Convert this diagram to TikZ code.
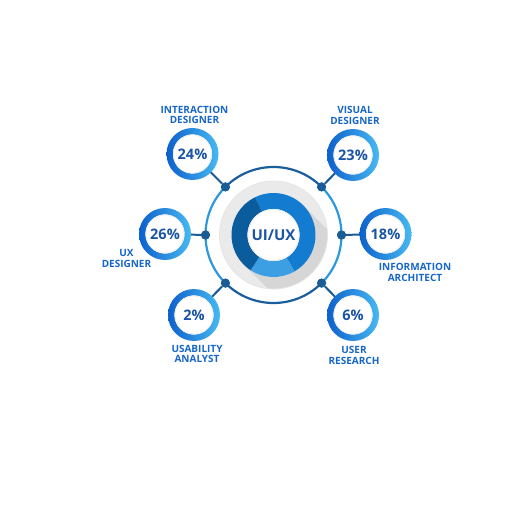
\documentclass[tikz,border=0pt]{standalone}
\usepackage{fontspec}
\setmainfont{Open Sans}
\usetikzlibrary{calc}
\definecolor{ringdark}{HTML}{1B5E9E}
\definecolor{ringlight}{HTML}{2C98DD}
\definecolor{dotcol}{HTML}{1A5C95}
\definecolor{satA}{HTML}{0D60CC}
\definecolor{satB}{HTML}{46B9F2}
\definecolor{pcttext}{HTML}{1A55A3}
\definecolor{labtext}{HTML}{1767C8}
\definecolor{donutA}{HTML}{0B5C9C}
\definecolor{donutB}{HTML}{137BD0}
\definecolor{donutC}{HTML}{3D9FE3}
\definecolor{graydisk}{HTML}{EAEAEA}
\definecolor{shadowcol}{HTML}{D6D6D6}
\tikzset{
  sat/.style={circle, minimum size=39pt, inner sep=0pt, fill=white,
    font=\fontsize{14.5}{14.5}\selectfont\bfseries, text=pcttext},
  lab/.style={align=center, font=\fontsize{10}{10.8}\selectfont\bfseries, text=labtext, inner sep=0pt},
  dot/.style={circle, fill=dotcol, minimum size=9pt, inner sep=0pt},
  conn/.style={draw=dotcol, line width=2pt}
}
\begin{document}
\begin{tikzpicture}[x=1pt,y=1pt]
\fill[white] (0,0) rectangle (512,512);
\useasboundingbox (0,0) rectangle (512,512);
\coordinate (C) at (273.5,277);
% outer ring
\draw[ringlight, line width=2.2pt] (C) ++(135:68) arc (135:225:68);
\draw[ringlight, line width=2.2pt] (C) ++(-45:68) arc (-45:45:68);
\draw[ringdark, line width=2.2pt] (C) ++(45:68) arc (45:135:68);
\draw[ringdark, line width=2.2pt] (C) ++(225:68) arc (225:315:68);
% dots
\node[dot] (d0) at ($(C)+(0:68)$) {};
\node[dot] (d45) at ($(C)+(45:68)$) {};
\node[dot] (d135) at ($(C)+(135:68)$) {};
\node[dot] (d180) at ($(C)+(180:68)$) {};
\node[dot] (d225) at ($(C)+(225:68)$) {};
\node[dot] (d315) at ($(C)+(315:68)$) {};
% satellite positions
\coordinate (s24) at (192.5,358);
\coordinate (s23) at (353,357);
\coordinate (s26) at (165,278);
\coordinate (s18) at (385.5,278);
\coordinate (s2) at (194,197);
\coordinate (s6) at (353,197);
% connectors
\draw[conn] (d135) -- (s24);
\draw[conn] (d45) -- (s23);
\draw[conn] (d180) -- (s26);
\draw[conn] (d0) -- (s18);
\draw[conn] (d225) -- (s2);
\draw[conn] (d315) -- (s6);
\foreach \d in {d0,d45,d135,d180,d225,d315}{\node[dot] at (\d) {};}
% satellite rings
\foreach \n in {s24,s23,s26,s18,s2,s6}{
  \shade[left color=satA, right color=satB, even odd rule]
    (\n) circle (26) (\n) circle (19.5);
}
\node[sat] (p24) at (s24) {24\%};
\node[sat] (p23) at (s23) {23\%};
\node[sat] (p26) at (s26) {26\%};
\node[sat] (p18) at (s18) {18\%};
\node[sat] (p2) at (s2) {2\%};
\node[sat] (p6) at (s6) {6\%};
\foreach \n in {s24,s23,s26,s18,s2,s6}{
  \draw[black!7, line width=0.8pt] (\n) circle (19.1);
}
% gray disk and shadow
\fill[graydisk] (C) circle (54);
\begin{scope}
  \clip (C) circle (54);
  \fill[shadowcol] ($(C)+(45:42)$) -- ++(-45:80) -- ($(C)+(225:42)+(-45:80)$) -- ($(C)+(225:42)$) -- cycle;
\end{scope}
\draw[black!10, line width=0.8pt] (C) circle (54);
% donut
\fill[donutB] (C) ++(116:42) arc (116:-60:42) -- ($(C)+(-60:26)$) arc (-60:116:26) -- cycle;
\fill[donutC] (C) ++(-60:42) arc (-60:-123:42) -- ($(C)+(-123:26)$) arc (-123:-60:26) -- cycle;
\fill[donutA] (C) ++(-123:42) arc (-123:-244:42) -- ($(C)+(116:26)$) arc (116:237:26) -- cycle;
\fill[white] (C) circle (26);
\draw[black!8, line width=0.8pt] (C) circle (25.6);
\node[font=\fontsize{15}{15}\selectfont\bfseries, text=pcttext] (ui) at (C) {UI/UX};
% labels
\node[lab] (l24) at (194.5,397) {INTERACTION\\DESIGNER};
\node[lab] (l23) at (355,396.5) {VISUAL\\DESIGNER};
\node[lab] (l26) at (126.5,253.5) {UX\\DESIGNER};
\node[lab] (l18) at (415,239.5) {INFORMATION\\ARCHITECT};
\node[lab] (l2) at (197,158) {USABILITY\\ANALYST};
\node[lab] (l6) at (354,156.5) {USER\\RESEARCH};
\end{tikzpicture}
\end{document}
